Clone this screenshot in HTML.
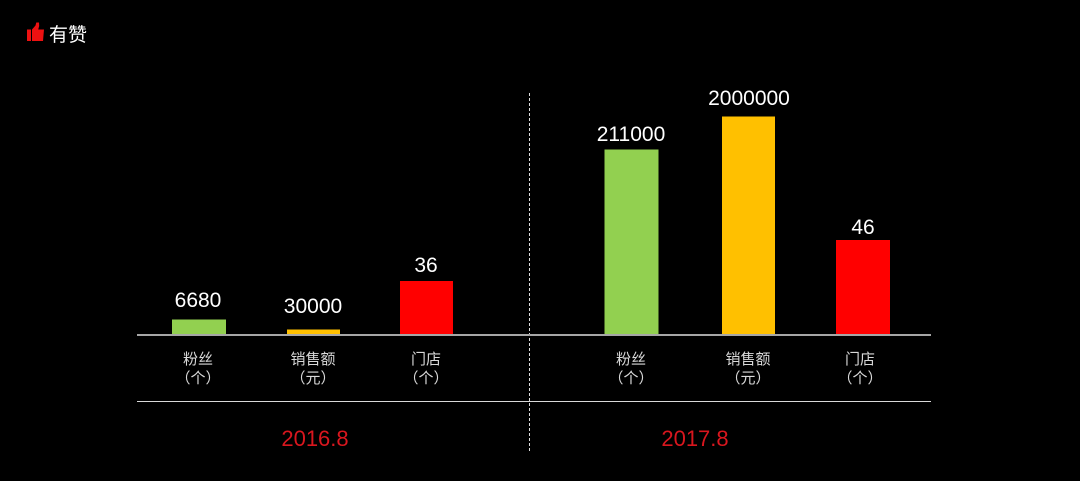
<!DOCTYPE html>
<html><head><meta charset="utf-8"><style>
html,body{margin:0;padding:0;background:#000;}
body{width:1080px;height:481px;overflow:hidden;}
svg{display:block;}
</style></head><body>
<svg width="1080" height="481" viewBox="0 0 1080 481" xmlns="http://www.w3.org/2000/svg">
<rect width="1080" height="481" fill="#000"/>
<!-- logo -->
<path d="M27,29.5 h4 v11.5 h-4 z M32,29.5 l3.5,-4 l0.8,-3 l2.7,0 l0.2,3.5 l-1,3.5 h5.8 l-1,11.5 h-11 z" fill="#ee1111"/>
<text x="49" y="41" font-family="'Liberation Sans','Noto Sans CJK SC',sans-serif" font-size="19" fill="#fff">有赞</text>

<!-- dashed divider -->
<line x1="529.5" y1="93" x2="529.5" y2="452" stroke="#ddd" stroke-width="1" stroke-dasharray="3,2"/>

<!-- bars left -->
<rect x="172" y="319.5" width="54" height="15" fill="#92d050"/>
<rect x="287" y="329.5" width="53" height="5" fill="#ffc000"/>
<rect x="400" y="281" width="53" height="53.5" fill="#ff0000"/>
<!-- bars right -->
<rect x="604.5" y="149.5" width="54" height="185" fill="#92d050"/>
<rect x="722" y="116.5" width="53" height="218" fill="#ffc000"/>
<rect x="836" y="240" width="54" height="94.5" fill="#ff0000"/>

<!-- axis lines -->
<line x1="137" y1="335" x2="931" y2="335" stroke="#a6a6a6" stroke-width="2"/>
<line x1="137" y1="401.5" x2="931" y2="401.5" stroke="#d9d9d9" stroke-width="1"/>

<g font-family="'Liberation Sans',sans-serif" font-size="21" fill="#fff" text-anchor="middle">
<text x="198" y="307">6680</text>
<text x="313" y="313">30000</text>
<text x="426" y="272">36</text>
<text x="631" y="141">211000</text>
<text x="749" y="105">2000000</text>
<text x="863" y="234">46</text>
</g>

<g font-family="'Liberation Sans','Noto Sans CJK SC',sans-serif" font-size="15" fill="#d9d9d9" text-anchor="middle">
<text x="198" y="364">粉丝</text>
<text x="198" y="383">（个）</text>
<text x="313" y="364">销售额</text>
<text x="313" y="383">（元）</text>
<text x="426" y="364">门店</text>
<text x="426" y="383">（个）</text>
<text x="631" y="364">粉丝</text>
<text x="631" y="383">（个）</text>
<text x="748" y="364">销售额</text>
<text x="748" y="383">（元）</text>
<text x="860" y="364">门店</text>
<text x="860" y="383">（个）</text>
</g>

<g font-family="'Liberation Sans',sans-serif" font-size="22" fill="#d9161e" text-anchor="middle">
<text x="315" y="446">2016.8</text>
<text x="695" y="446">2017.8</text>
</g>
</svg>
</body></html>
